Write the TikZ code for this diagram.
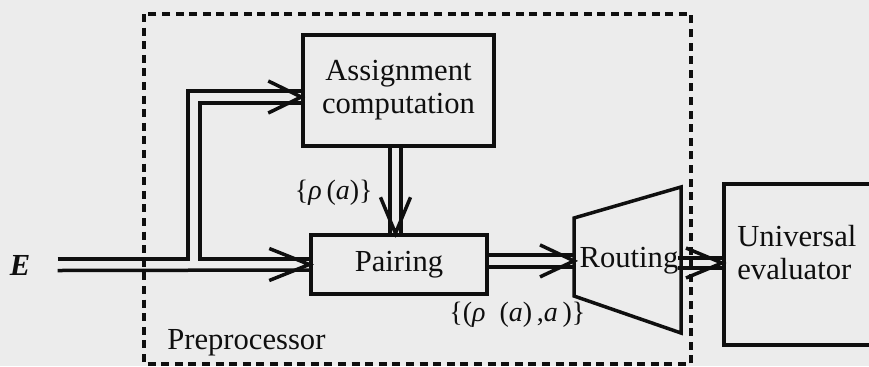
\documentclass[tikz,border=0pt]{standalone}
\usepackage{fontspec}
\setmainfont{Liberation Serif}
\usetikzlibrary{calc}
\definecolor{bg}{RGB}{236,236,236}
\definecolor{ink}{RGB}{15,15,15}
\begin{document}
\begin{tikzpicture}[x=0.5pt,y=-0.5pt,
  ln/.style={line width=1.75pt, draw=ink, line join=miter},
  box/.style={ln, rectangle, inner sep=0pt},
  lbl/.style={font=\fontsize{15.3}{16.5}\selectfont, text=ink},
  sml/.style={font=\fontsize{14}{15}\selectfont, text=ink},
  dashbox/.style={line width=1.6pt, draw=ink, dash pattern=on 4pt off 2.8pt}]
\clip (0,0) rectangle (869,366);
\fill[bg] (0,0) rectangle (869,366);

% dashed preprocessor frame
\draw[dashbox] (144,14) rectangle (691,364);

% nodes
\node[box, lbl, minimum width=95.5pt, minimum height=55.5pt, align=center] (assign) at (398.5,90.5) {Assignment\\computation};
\node[box, lbl, minimum width=88pt, minimum height=29.5pt] (pair) at (399,264.5) {Pairing};
\node[lbl, inner sep=0pt] (route) at (629,261) {Routing};
\draw[ln] (574,218) coordinate (rtl) -- (681,187) coordinate (rtr) -- (681,333) coordinate (rbr) -- (574,296) coordinate (rbl) -- cycle;
\node[box, anchor=north west, minimum width=90pt, minimum height=80.5pt] (univ) at (722,182) {};
\node[lbl, anchor=west, align=left, inner sep=0pt] (univtxt) at (737,253) {Universal\\evaluator};
\node[lbl, font=\fontsize{15.3}{16.5}\selectfont\bfseries\itshape, inner sep=0pt] (E) at (20,265) {E};
\node[lbl, anchor=west, inner sep=0pt] (pre) at (167,343) {Preprocessor};
\node[sml, anchor=east, inner sep=0pt] (lrho) at (373,193) {\{\textit{ρ}\,(\textit{a})\}};
\node[sml, anchor=west, inner sep=0pt] (lpair) at (449,315) {\{(\textit{ρ}\enspace(\textit{a})\,,\textit{a}\,)\}};

% tips
\coordinate (aT) at ($(assign.west)+(0,6.5)$);
\coordinate (pT) at (pair.west);
\coordinate (vT) at ($(pair.north)+(-3.5,0)$);
\coordinate (rT) at ($(rtl)!0.55!(rbl)$);
\coordinate (uT) at ($(univ.north west)+(0,81)$);

% E -> Assignment / Pairing
\draw[ln] ($(E.east)+(27,-6)$) -- (188,259) -- (188,91) -- ($(aT)+(0,-6)$);
\draw[ln] ($(aT)+(0,6)$) -- (200,103) -- (200,259) -- ($(pT)+(0,-5.5)$);
\draw[ln] ($(E.east)+(27,5.5)$) -- ($(pT)+(0,5.5)$);
\draw[ln] ($(aT)+(-33,-16)$) -- (aT) -- ($(aT)+(-33,16)$);
\draw[ln] ($(pT)+(-40,-16)$) -- (pT) -- ($(pT)+(-40,16)$);

% Assignment -> Pairing
\draw[ln] ($(assign.south -| vT)+(-5.5,0)$) -- ($(vT)+(-5.5,0)$);
\draw[ln] ($(assign.south -| vT)+(5.5,0)$) -- ($(vT)+(5.5,0)$);
\draw[ln] ($(vT)+(-15,-36)$) -- (vT) -- ($(vT)+(15,-36)$);

% Pairing -> Routing
\draw[ln] ($(pair.east |- rT)+(0,-6)$) -- ($(rT)+(0,-6)$);
\draw[ln] ($(pair.east |- rT)+(0,6)$) -- ($(rT)+(0,6)$);
\draw[ln] ($(rT)+(-34,-16)$) -- (rT) -- ($(rT)+(-34,16)$);

% Routing -> Universal evaluator
\draw[ln] ($(uT)+(-44,-5)$) -- ($(uT)+(0,-5)$);
\draw[ln] ($(uT)+(-44,5)$) -- ($(uT)+(0,5)$);
\draw[ln] ($(uT)+(-36,-15)$) -- (uT) -- ($(uT)+(-36,15)$);
\end{tikzpicture}
\end{document}
